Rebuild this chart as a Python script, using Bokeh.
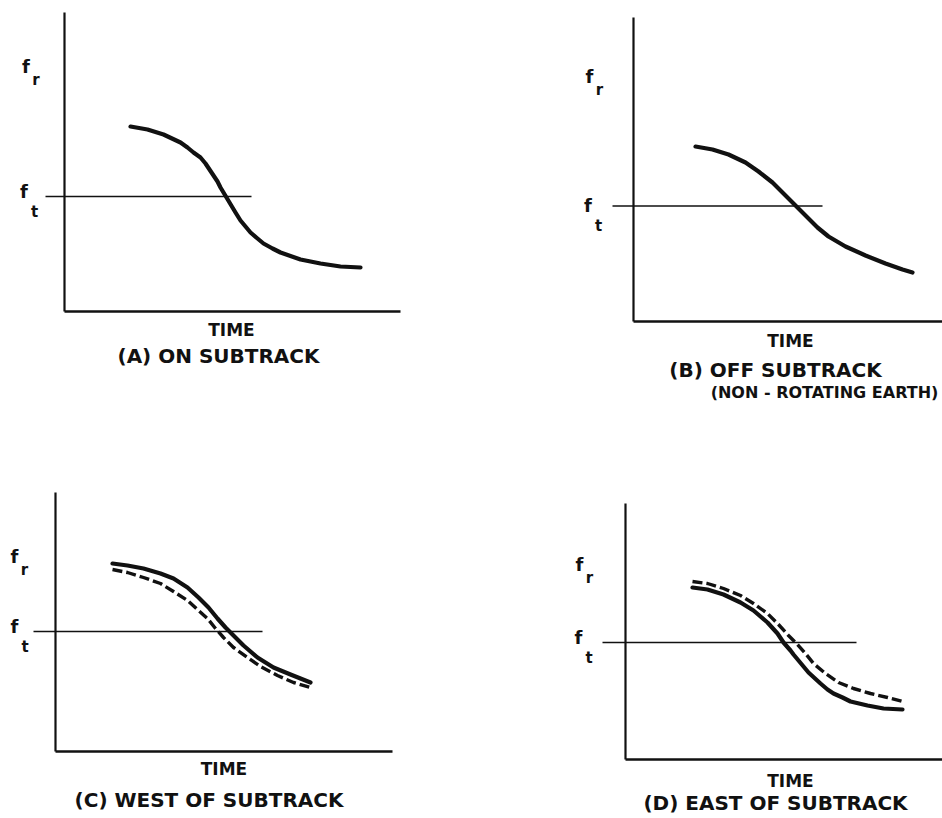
from bokeh.plotting import figure
from bokeh.layouts import gridplot
from bokeh.models import Range1d
from bokeh.core.properties import value
from bokeh.embed import file_html
from bokeh.resources import INLINE

# ---------------- data (schematic units: time, received frequency) ----------------
# Panel A: on subtrack
TIME_A = [6.6, 8.3, 9.9, 11.6, 12.3, 12.9, 13.6, 14.1, 14.5, 14.9, 15.3, 15.6, 15.9, 16.2, 16.8,
          17.1, 17.6, 18.1, 18.6, 19.3, 19.9, 20.8, 21.6, 23.6, 25.6, 27.6, 29.6]
FREQ_A = [18.5, 18.2, 17.7, 16.9, 16.4, 15.9, 15.4, 14.8, 14.2, 13.6, 13.0, 12.4, 11.9, 11.4, 10.4,
          9.9, 9.1, 8.5, 7.9, 7.3, 6.8, 6.3, 5.9, 5.2, 4.8, 4.5, 4.4]
FT_A = 11.5
FT_SPAN_A = [-1.9, 18.7]

# Panel B: off subtrack (non-rotating earth)
TIME_B = [6.2, 7.9, 9.5, 11.2, 12.5, 13.9, 15.0, 15.9, 16.5, 17.4, 18.4, 19.5, 21.2, 23.2, 25.2, 26.9, 27.9]
FREQ_B = [17.5, 17.2, 16.7, 15.9, 15.0, 13.9, 12.8, 11.9, 11.3, 10.4, 9.4, 8.5, 7.5, 6.6, 5.8, 5.2, 4.9]
FT_B = 11.55
FT_SPAN_B = [-2.1, 18.9]

# Panel C: west of subtrack (solid and dashed)
TIME_C_SOLID = [5.7, 7.2, 8.8, 10.5, 11.8, 13.2, 14.3, 15.3, 16.2, 17.0, 17.8, 18.8, 20.2, 21.8, 23.5, 25.5]
FREQ_C_SOLID = [18.8, 18.6, 18.3, 17.8, 17.3, 16.4, 15.4, 14.4, 13.3, 12.4, 11.6, 10.6, 9.4, 8.4, 7.7, 6.9]
TIME_C_DASH = [5.7, 7.2, 8.8, 10.5, 11.8, 13.2, 14.3, 15.2, 16.0, 16.8, 17.8, 19.2, 20.5, 22.2, 23.8, 25.5]
FREQ_C_DASH = [18.2, 17.9, 17.4, 16.8, 16.0, 15.1, 14.1, 13.3, 12.3, 11.4, 10.4, 9.4, 8.5, 7.6, 6.9, 6.4]
FT_C = 12.0
FT_SPAN_C = [-2.2, 20.7]

# Panel D: east of subtrack (solid and dashed)
TIME_D_SOLID = [6.7, 8.2, 9.8, 11.5, 12.8, 14.2, 15.2, 15.8, 16.5, 16.8, 17.3, 17.8, 18.3, 19.5, 20.2,
                20.8, 21.7, 22.5, 24.2, 25.8, 27.7]
FREQ_D_SOLID = [17.2, 17.0, 16.5, 15.7, 14.9, 13.7, 12.6, 11.7, 10.9, 10.5, 9.9, 9.3, 8.7, 7.6, 7.0,
                6.6, 6.2, 5.8, 5.4, 5.1, 5.0]
TIME_D_DASH = [6.7, 8.2, 9.8, 11.5, 12.8, 14.2, 15.3, 16.3, 17.2, 18.0, 18.8, 20.0, 21.3, 22.8, 24.5, 26.2, 27.7]
FREQ_D_DASH = [17.8, 17.6, 17.1, 16.4, 15.6, 14.6, 13.5, 12.4, 11.5, 10.6, 9.6, 8.6, 7.7, 7.1, 6.6, 6.2, 5.8]
FT_D = 11.7
FT_SPAN_D = [-2.3, 23.1]

# axis extents (time end, frequency top)
AXIS_A = (33.6, 29.9)
AXIS_B = (31.0, 30.4)
AXIS_C = (33.7, 25.9)
AXIS_D = (31.8, 25.6)

CAPTIONS = ["(A) ON SUBTRACK", "(B) OFF SUBTRACK", "(C) WEST OF SUBTRACK", "(D) EAST OF SUBTRACK"]
SUBCAPTION_B = "(NON - ROTATING EARTH)"
X_LABEL = "TIME"

FONT = "DejaVu Sans"
INK = "#111111"


def panel(xr, yr):
    p = figure(width=471, height=409, x_range=Range1d(*xr), y_range=Range1d(*yr),
               output_backend="svg", toolbar_location=None, min_border=0,
               x_axis_type=None, y_axis_type=None)
    p.outline_line_color = None
    p.background_fill_color = "white"
    p.border_fill_color = "white"
    return p


def txt(p, x, y, s, size, align="center"):
    p.text(x=[x], y=[y], text=[s], text_font=value(FONT), text_font_size=size,
           text_font_style="bold", text_align=align, text_baseline="middle", text_color=INK)


def common(p, axis, ft, ft_span, fr_pos, ft_pos, time_pos, cap_pos, caption):
    xend, ytop = axis
    p.line([0, 0], [0, ytop], line_width=2.2, line_color=INK)
    p.line([0, xend], [0, 0], line_width=2.4, line_color=INK)
    p.line(ft_span, [ft, ft], line_width=1.4, line_color=INK)
    # f_r label
    txt(p, fr_pos[0], fr_pos[1], "f", "18px")
    txt(p, fr_pos[0] + 1.0, fr_pos[1] - 1.35, "r", "15px")
    # f_t label
    txt(p, ft_pos[0], ft_pos[1], "f", "18px")
    txt(p, ft_pos[0] + 1.05, ft_pos[1] - 2.05, "t", "15px")
    txt(p, time_pos[0], time_pos[1], X_LABEL, "17px")
    txt(p, cap_pos[0], cap_pos[1], caption, "20px")


SOLID = dict(line_width=4.2, line_color=INK, line_cap="round", line_join="round")
DASHED = dict(line_width=3.4, line_color=INK, line_dash="10 4", line_join="round")

# Panel A
pA = panel((-6.4, 40.7), (-9.8, 31.1))
common(pA, AXIS_A, FT_A, FT_SPAN_A, (-3.85, 24.5), (-4.05, 12.0), (16.7, -1.8), (15.4, -4.4), CAPTIONS[0])
pA.line(TIME_A, FREQ_A, **SOLID)

# Panel B
pB = panel((-16.2, 30.9), (-8.8, 32.1))
common(pB, AXIS_B, FT_B, FT_SPAN_B, (-4.4, 24.5), (-4.55, 11.6), (15.7, -1.9), (14.2, -4.85), CAPTIONS[1])
pB.line(TIME_B, FREQ_B, **SOLID)
txt(pB, 19.1, -7.1, SUBCAPTION_B, "16px")

# Panel C
pC = panel((-5.5, 41.6), (-6.7, 34.2))
common(pC, AXIS_C, FT_C, FT_SPAN_C, (-4.1, 19.5), (-4.1, 12.5), (16.85, -1.75), (15.35, -4.85), CAPTIONS[2])
pC.line(TIME_C_SOLID, FREQ_C_SOLID, **SOLID)
pC.line(TIME_C_DASH, FREQ_C_DASH, **DASHED)

# Panel D
pD = panel((-15.4, 31.7), (-5.9, 35.0))
common(pD, AXIS_D, FT_D, FT_SPAN_D, (-4.6, 19.55), (-4.7, 12.25), (16.5, -2.1), (15.0, -4.35), CAPTIONS[3])
pD.line(TIME_D_SOLID, FREQ_D_SOLID, **SOLID)
pD.line(TIME_D_DASH, FREQ_D_DASH, **DASHED)

grid = gridplot([[pA, pB], [pC, pD]], toolbar_location=None)

open("out.html", "w").write(file_html(grid, INLINE))
